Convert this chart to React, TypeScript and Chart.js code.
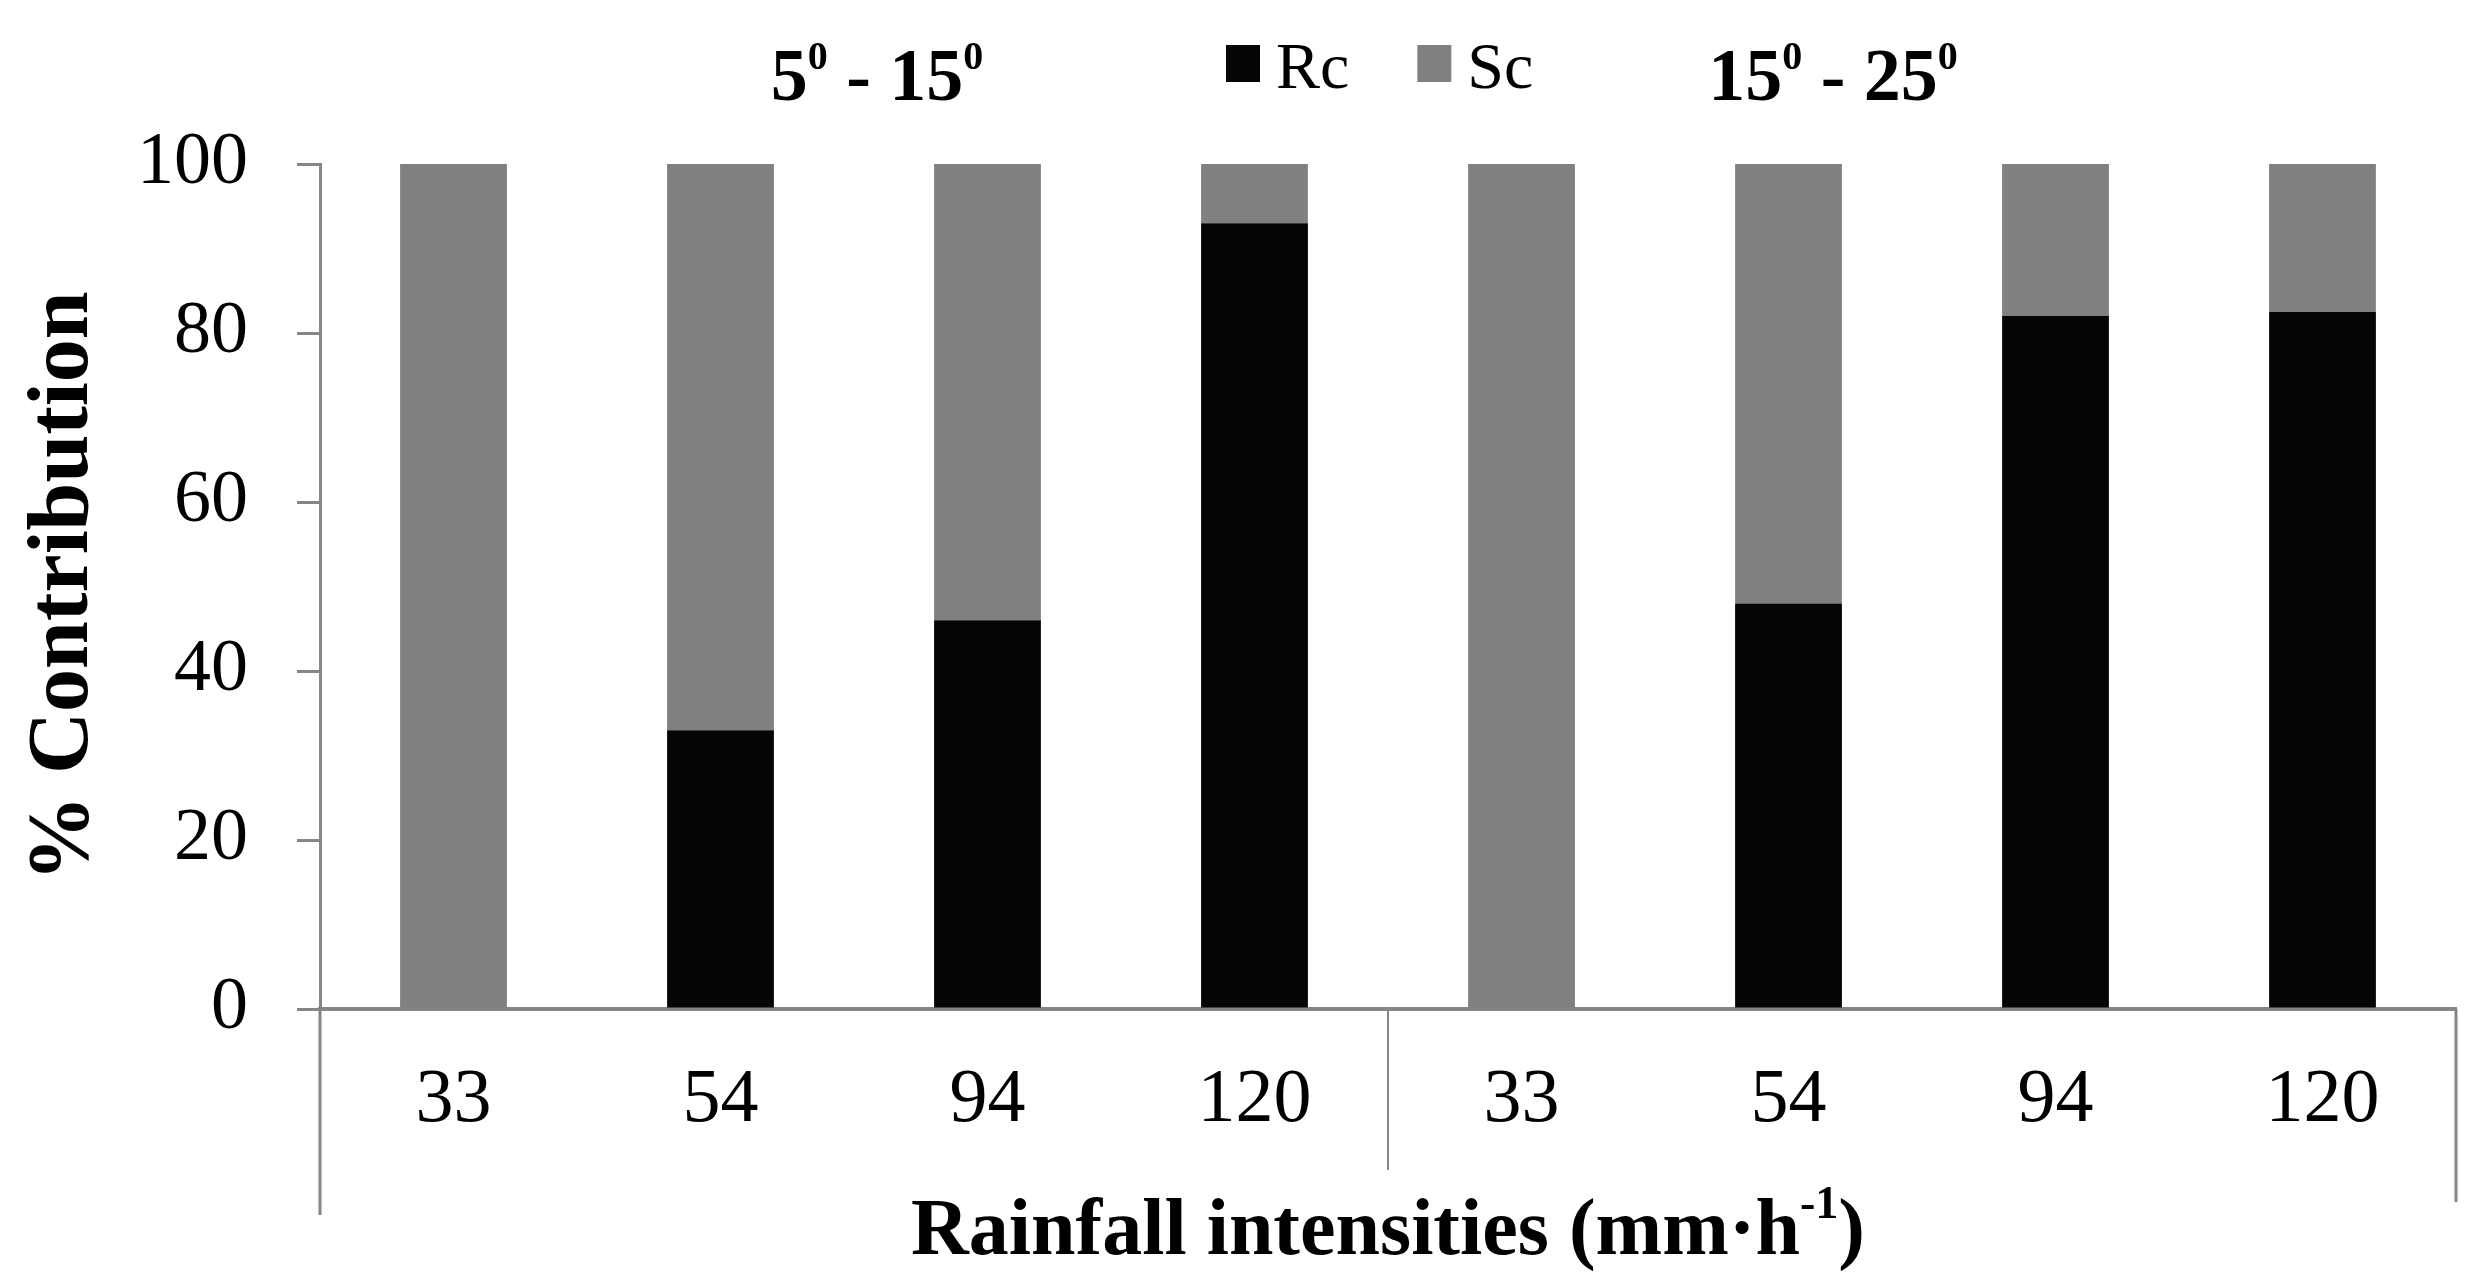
import React, { useEffect, useRef } from 'react';
import { Chart, registerables } from 'chart.js';

Chart.register(...registerables);

// data
const categories = ['33', '54', '94', '120', '33', '54', '94', '120'];
const rcValues = [0, 33, 46, 93, 0, 48, 82, 82.5];
const scValues = [100, 67, 54, 7, 100, 52, 18, 17.5];
const yTicks = [0, 20, 40, 60, 80, 100];
const seriesNames = ['Rc', 'Sc'];
const seriesColors = ['#050505', '#808080'];
const slopeGroups = [['5', '15'], ['15', '25']];

const SERIF = '"Liberation Serif", "Times New Roman", serif';
const AXIS_GRAY = '#868686';

type Run = { text: string; size: number; rise: number; bold: boolean };

function runFont(r: Run) {
    return `${r.bold ? 'bold ' : ''}${r.size}px ${SERIF}`;
}

// draws a row of text pieces (for superscripts) centred on cx
function drawRuns(ctx: CanvasRenderingContext2D, runs: Run[], cx: number, baseline: number) {
    let total = 0;
    runs.forEach((r) => {
        ctx.font = runFont(r);
        total += ctx.measureText(r.text).width;
    });
    let x = cx - total / 2;
    runs.forEach((r) => {
        ctx.font = runFont(r);
        ctx.fillText(r.text, x, baseline - r.rise);
        x += ctx.measureText(r.text).width;
    });
}

const extras = {
    id: 'extras',
    afterDraw(chart: Chart) {
        const { ctx, chartArea } = chart;
        const xScale = chart.scales.x;
        ctx.save();
        ctx.fillStyle = '#000';
        ctx.textBaseline = 'alphabetic';
        ctx.textAlign = 'left';

        // slope group labels at the top
        const groupCenters = [877, 1833];
        slopeGroups.forEach((g, i) => {
            drawRuns(ctx, [
                { text: g[0], size: 74, rise: 0, bold: true },
                { text: '0', size: 40, rise: 31, bold: true },
                { text: ' - ' + g[1], size: 74, rise: 0, bold: true },
                { text: '0', size: 40, rise: 31, bold: true },
            ], groupCenters[i], 100);
        });

        // legend
        let lx = 1226;
        chart.data.datasets.forEach((ds, i) => {
            ctx.fillStyle = ds.backgroundColor as string;
            ctx.fillRect(lx, 45, 34, 37);
            ctx.fillStyle = '#000';
            ctx.font = `66px ${SERIF}`;
            ctx.fillText(ds.label as string, lx + 50, 88);
            lx += 50 + ctx.measureText(ds.label as string).width + 68;
        });

        // x axis title
        drawRuns(ctx, [
            { text: 'Rainfall intensities (mm·h', size: 80, rise: 0, bold: true },
            { text: '-1', size: 46, rise: 36, bold: true },
            { text: ')', size: 80, rise: 0, bold: true },
        ], (chartArea.left + chartArea.right) / 2, 1254);

        // category box lines below the axis
        const divider = (xScale.getPixelForValue(3) + xScale.getPixelForValue(4)) / 2;
        ctx.strokeStyle = AXIS_GRAY;
        ctx.lineWidth = 3;
        ctx.beginPath();
        ctx.moveTo(chartArea.left, chartArea.bottom);
        ctx.lineTo(chartArea.left, 1215);
        ctx.moveTo(chartArea.right, chartArea.bottom);
        ctx.lineTo(chartArea.right, 1202);
        ctx.stroke();
        ctx.lineWidth = 2;
        ctx.beginPath();
        ctx.moveTo(divider, chartArea.bottom);
        ctx.lineTo(divider, 1170);
        ctx.stroke();
        ctx.restore();
    },
};

export default function App() {
    const canvasRef = useRef<HTMLCanvasElement | null>(null);
    const chartRef = useRef<Chart<'bar'> | null>(null);

    useEffect(() => {
        if (!canvasRef.current) return;
        if (chartRef.current) chartRef.current.destroy();

        chartRef.current = new Chart(canvasRef.current, {
            type: 'bar',
            data: {
                labels: categories,
                datasets: [
                    {
                        label: seriesNames[0],
                        data: rcValues,
                        backgroundColor: seriesColors[0],
                        barPercentage: 0.4,
                        categoryPercentage: 1,
                    },
                    {
                        label: seriesNames[1],
                        data: scValues,
                        backgroundColor: seriesColors[1],
                        barPercentage: 0.4,
                        categoryPercentage: 1,
                    },
                ],
            },
            options: {
                responsive: true,
                maintainAspectRatio: false,
                animation: false,
                devicePixelRatio: 1,
                layout: { padding: { top: 164, right: 32, bottom: 0, left: 0 } },
                plugins: {
                    legend: { display: false },
                    tooltip: { enabled: false },
                },
                scales: {
                    x: {
                        stacked: true,
                        grid: { display: false, drawTicks: false },
                        border: { color: AXIS_GRAY, width: 4 },
                        ticks: {
                            color: '#000',
                            font: { family: SERIF, size: 76 },
                            padding: 46,
                            maxRotation: 0,
                            autoSkip: false,
                        },
                        afterFit: (s: any) => { s.height = 279; },
                    },
                    y: {
                        stacked: true,
                        min: 0,
                        max: 100,
                        afterBuildTicks: (s: any) => { s.ticks = yTicks.map((v) => ({ value: v })); },
                        ticks: {
                            color: '#000',
                            font: { family: SERIF, size: 74 },
                            padding: 49,
                        },
                        grid: {
                            drawOnChartArea: false,
                            drawTicks: true,
                            tickLength: 23,
                            color: AXIS_GRAY,
                            lineWidth: 3,
                        },
                        border: { color: AXIS_GRAY, width: 3 },
                        title: {
                            display: true,
                            text: '% Contribution',
                            color: '#000',
                            font: { family: SERIF, size: 86, weight: 'bold' },
                            padding: { top: 13, bottom: 0 },
                        },
                        afterFit: (s: any) => { s.width = 320; },
                    },
                },
            },
            plugins: [extras],
        });

        return () => {
            if (chartRef.current) {
                chartRef.current.destroy();
                chartRef.current = null;
            }
        };
    }, []);

    return (
        <div style={{ position: 'fixed', left: 0, top: 0, width: 2488, height: 1288, background: '#fff' }}>
            <canvas ref={canvasRef} />
        </div>
    );
}
